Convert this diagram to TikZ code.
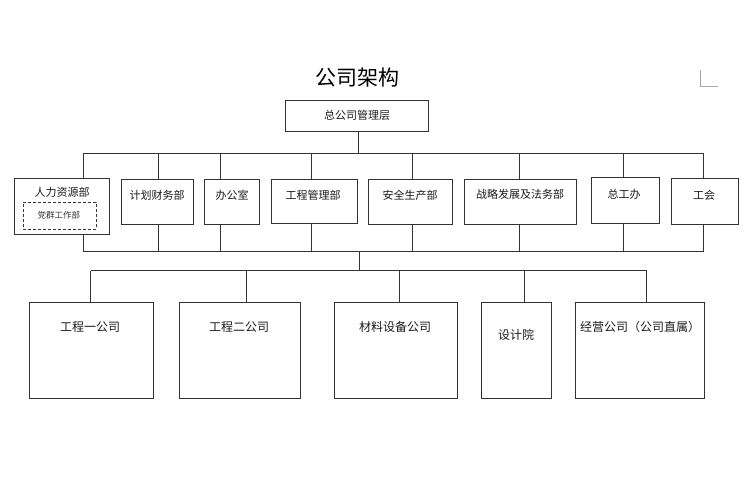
\documentclass[tikz,border=0pt]{standalone}
\usepackage{fontspec}
\setmainfont{Noto Sans CJK SC}
\begin{document}
\begin{tikzpicture}[x=1pt,y=-1pt,
  box/.style={draw=black!80,line width=1pt,inner sep=0pt},
  dbox/.style={draw=black!80,line width=1pt,dash pattern=on 3pt off 2pt,inner sep=0pt},
  lbl/.style={inner sep=0pt,font=\fontsize{11}{12}\selectfont,text=black!90},
  blbl/.style={inner sep=0pt,font=\fontsize{12}{13}\selectfont,text=black!90},
  slbl/.style={inner sep=0pt,font=\fontsize{8.5}{9}\selectfont,text=black!80},
  conn/.style={draw=black!80,line width=1pt}]
\useasboundingbox (0,0) rectangle (750,500);
% title
\node[inner sep=0pt,font=\fontsize{21}{24}\selectfont] (title) at (357,78) {公司架构};
% corner mark
\draw[black!35,line width=0.8pt] (700.5,70) -- (700.5,86.5) -- (718,86.5);
% top box
\node[box,minimum width=143pt,minimum height=31pt] (top) at (356.5,116.5) {};
\node[lbl] (topt) at (357,115) {总公司管理层};
% second tier boxes
\node[box,minimum width=95pt,minimum height=55pt] (hr) at (61.5,206.5) {};
\node[lbl] (hrt) at (62,192) {人力资源部};
\node[dbox,minimum width=73pt,minimum height=27pt] (dq) at (59.5,215.5) {};
\node[slbl] (dqt) at (59,215.5) {党群工作部};
\node[box,minimum width=72pt,minimum height=44pt] (jh) at (157,202) {};
\node[lbl] (jht) at (157,195) {计划财务部};
\node[box,minimum width=55pt,minimum height=44pt] (bg) at (231.5,202) {};
\node[lbl] (bgt) at (232,195) {办公室};
\node[box,minimum width=86pt,minimum height=43pt] (gc) at (314,201.5) {};
\node[lbl] (gct) at (313,195) {工程管理部};
\node[box,minimum width=84pt,minimum height=44pt] (aq) at (410,202) {};
\node[lbl] (aqt) at (410,195) {安全生产部};
\node[box,minimum width=112pt,minimum height=44pt] (zl) at (520,202) {};
\node[lbl] (zlt) at (520,194) {战略发展及法务部};
\node[box,minimum width=68pt,minimum height=45pt] (zg) at (625,200.5) {};
\node[lbl] (zgt) at (624,194) {总工办};
\node[box,minimum width=67pt,minimum height=45pt] (gh) at (704.5,201.5) {};
\node[lbl] (ght) at (704,195) {工会};
% third tier boxes
\node[box,minimum width=124pt,minimum height=96pt] (c1) at (91,350) {};
\node[blbl] (c1t) at (90,327) {工程一公司};
\node[box,minimum width=121pt,minimum height=96pt] (c2) at (239.5,350) {};
\node[blbl] (c2t) at (239,327) {工程二公司};
\node[box,minimum width=123pt,minimum height=96pt] (c3) at (395.5,350) {};
\node[blbl] (c3t) at (395,327) {材料设备公司};
\node[box,minimum width=70pt,minimum height=96pt] (c4) at (516,350) {};
\node[blbl] (c4t) at (516,335) {设计院};
\node[box,minimum width=129pt,minimum height=96pt] (c5) at (640,350) {};
\node[blbl] (c5t) at (640,327) {经营公司（公司直属）};
% bus coordinates
\coordinate (ub) at (358.5,153.5);
\coordinate (lb) at (359.5,251.5);
\coordinate (bb) at (359.5,270.5);
\coordinate (d1) at (83.5,153.5);
\coordinate (d2) at (158.5,153.5);
\coordinate (d3) at (220.5,153.5);
\coordinate (d4) at (311.5,153.5);
\coordinate (d5) at (412.5,153.5);
\coordinate (d6) at (519.5,153.5);
\coordinate (d7) at (623.5,153.5);
\coordinate (d8) at (703.5,153.5);
\coordinate (e1) at (90.5,270.5);
\coordinate (e2) at (246.5,270.5);
\coordinate (e3) at (399.5,270.5);
\coordinate (e4) at (524.5,270.5);
\coordinate (e5) at (646.5,270.5);
% connectors
\draw[conn] (top.south -| ub) -- (ub);
\draw[conn] (d1) -- (d8);
\draw[conn] (d1 |- lb) -- (d8 |- lb);
\foreach \d/\n in {d1/hr,d2/jh,d3/bg,d4/gc,d5/aq,d6/zl,d7/zg,d8/gh}{
  \draw[conn] (\d) -- (\d |- \n.north);
  \draw[conn] (\d |- \n.south) -- (\d |- lb);
}
\draw[conn] (lb) -- (bb);
\draw[conn] (e1) -- (e5);
\foreach \e/\n in {e1/c1,e2/c2,e3/c3,e4/c4,e5/c5}{
  \draw[conn] (\e) -- (\e |- \n.north);
}
\end{tikzpicture}
\end{document}
